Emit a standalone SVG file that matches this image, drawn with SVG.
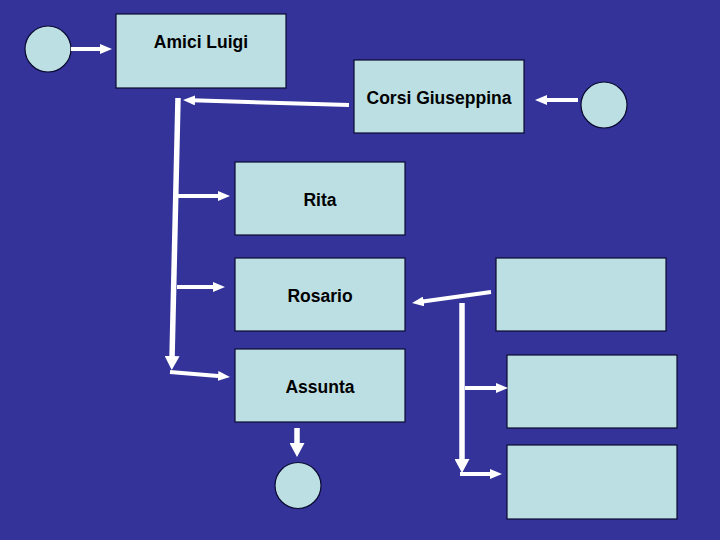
<svg xmlns="http://www.w3.org/2000/svg" width="720" height="540" viewBox="0 0 720 540">
<style>
.box{fill:#BCDFE3;stroke:#0A0A30;stroke-width:1.2}
.circ{fill:#BCDFE3;stroke:#0A0A30;stroke-width:1.2}
.lbl{font-family:"Liberation Sans",Arial,sans-serif;font-size:17.5px;font-weight:bold;fill:#000;text-anchor:middle}
.c{fill:none;stroke:#fff;stroke-width:4;marker-end:url(#ah)}
.cb{fill:none;stroke:#fff;stroke-width:5.5;marker-end:url(#ahb)}
</style>
<defs>
<marker id="ah" markerUnits="userSpaceOnUse" markerWidth="12" markerHeight="10" refX="3" refY="5" orient="auto"><path d="M0,0 L12,5 L0,10 z" fill="#fff"/></marker>
<marker id="ahb" markerUnits="userSpaceOnUse" markerWidth="14" markerHeight="15" refX="3" refY="7.5" orient="auto"><path d="M0,0 L14,7.5 L0,15 z" fill="#fff"/></marker>
</defs>
<rect width="720" height="540" fill="#333399"/>
<g id="nodes">
<g id="n-amici"><rect class="box" x="116" y="14" width="170" height="74"/><text class="lbl" x="201" y="48">Amici Luigi</text></g>
<g id="n-corsi"><rect class="box" x="354" y="60" width="170" height="73"/><text class="lbl" x="439" y="104">Corsi Giuseppina</text></g>
<g id="n-rita"><rect class="box" x="235" y="162" width="170" height="73"/><text class="lbl" x="320" y="206">Rita</text></g>
<g id="n-rosario"><rect class="box" x="235" y="258" width="170" height="73"/><text class="lbl" x="320" y="302">Rosario</text></g>
<g id="n-assunta"><rect class="box" x="235" y="349" width="170" height="73"/><text class="lbl" x="320" y="393">Assunta</text></g>
<g id="n-r1"><rect class="box" x="496" y="258" width="170" height="73"/></g>
<g id="n-r2"><rect class="box" x="507" y="355" width="170" height="73"/></g>
<g id="n-r3"><rect class="box" x="507" y="445" width="170" height="74"/></g>
<g id="c1"><circle class="circ" cx="48" cy="49" r="23"/></g>
<g id="c2"><circle class="circ" cx="604" cy="105" r="23"/></g>
<g id="c3"><circle class="circ" cx="298" cy="485.5" r="23"/></g>
</g>
<g id="connectors">
<line class="c" x1="71" y1="49" x2="103" y2="49"/>
<line class="c" x1="578" y1="100" x2="544" y2="100"/>
<line class="c" x1="349" y1="105" x2="192" y2="100.3"/>
<polyline class="cb" points="178,98 172,359"/>
<line class="c" x1="178" y1="196" x2="221" y2="196"/>
<line class="c" x1="177" y1="287" x2="216" y2="287"/>
<line class="c" x1="170" y1="372" x2="221" y2="376.2"/>
<line class="cb" x1="297" y1="428" x2="297" y2="446"/>
<line class="c" x1="491" y1="292" x2="420.9" y2="301.8"/>
<line class="cb" x1="462" y1="303" x2="462" y2="462"/>
<line class="c" x1="465" y1="388" x2="499" y2="388"/>
<line class="c" x1="460" y1="474" x2="493" y2="474"/>
</g>
</svg>
